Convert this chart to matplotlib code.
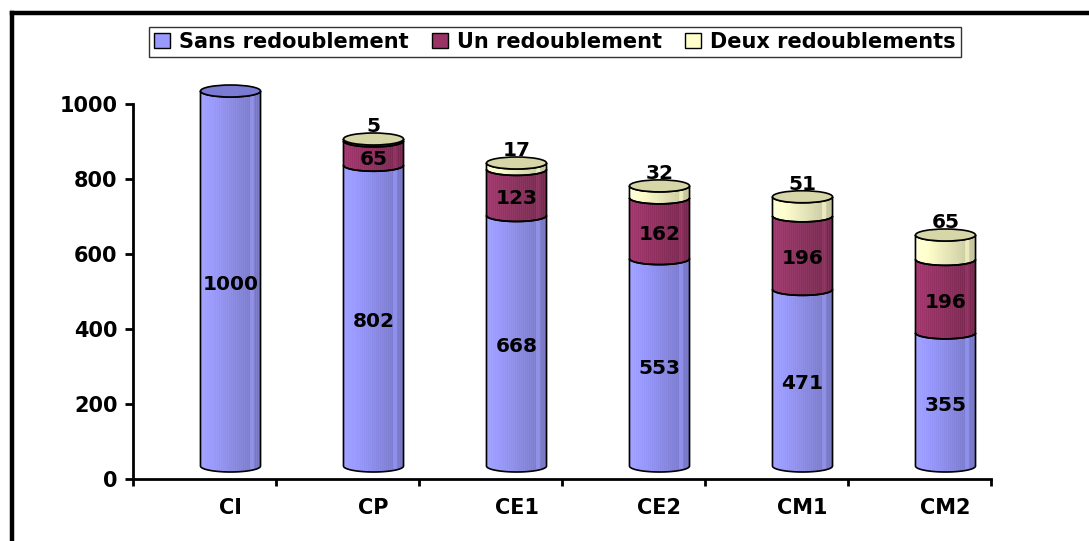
import matplotlib
matplotlib.use('Agg')
import matplotlib.pyplot as plt
from matplotlib.transforms import offset_copy, ScaledTranslation
from matplotlib.collections import PolyCollection
from matplotlib.patches import Polygon, Ellipse, Patch
from matplotlib.lines import Line2D
import matplotlib.colors as mcolors
import numpy as np

categories = ['CI', 'CP', 'CE1', 'CE2', 'CM1', 'CM2']
sans = [1000, 802, 668, 553, 471, 355]
un = [0, 65, 123, 162, 196, 196]
deux = [0, 5, 17, 32, 51, 65]
series_names = ['Sans redoublement', 'Un redoublement', 'Deux redoublements']
colors = ['#9999FF', '#993366', '#FFFFCC']
cap_colors = ['#7B7BD4', '#7A2A52', '#D6D6A8']

plt.rcParams['font.family'] = ['DejaVu Sans']
plt.rcParams['font.weight'] = 'bold'

W, H = 1089, 541
fig = plt.figure(figsize=(W / 100, H / 100), dpi=100)
ax = fig.add_axes([133 / W, 1 - 479 / H, (991 - 133) / W, (479 - 104) / H])
ax.set_xlim(-0.5, 5.5)
ax.set_ylim(0, 1000)

DX, DY = 26, 13  # 3D depth shift in pixels
trans = offset_copy(ax.transData, fig=fig, x=DX, y=DY, units='dots')
label_trans = offset_copy(ax.transData, fig=fig, x=DX, y=7, units='dots')
top_label_trans = offset_copy(ax.transData, fig=fig, x=DX, y=25, units='dots')

a = 0.21   # half width of cylinder (category units)
b = 16.0   # half height of ellipse (data units)


def shade(color, t):
    rgb = np.array(mcolors.to_rgb(color))
    f = 1.06 - 0.30 * t
    if 0.84 < t < 0.9:
        f += 0.12
    return tuple(np.clip(rgb * f, 0, 1))


def arc(cx, yc, n=40):
    t = np.linspace(np.pi, 2 * np.pi, n)
    return cx + a * np.cos(t), yc + b * np.sin(t)


def draw_segment(cx, y0, y1, color):
    n = 30
    xs = np.linspace(cx - a, cx + a, n + 1)
    s = lambda x: np.sqrt(np.clip(1 - ((x - cx) / a) ** 2, 0, 1))
    polys, cols = [], []
    for i in range(n):
        xa, xb = xs[i], xs[i + 1]
        polys.append([(xa, y0 - b * s(xa)), (xa, y1 - b * s(xa)),
                      (xb, y1 - b * s(xb)), (xb, y0 - b * s(xb))])
        cols.append(shade(color, (i + 0.5) / n))
    pc = PolyCollection(polys, facecolors=cols, edgecolors=cols, linewidths=0.4,
                        transform=trans, clip_on=False, zorder=3)
    ax.add_collection(pc)
    tx, ty = arc(cx, y1)
    bx, by = arc(cx, y0)
    px = np.concatenate([tx, bx[::-1]])
    py = np.concatenate([ty, by[::-1]])
    ax.add_patch(Polygon(np.column_stack([px, py]), closed=True, fill=False,
                         edgecolor='black', linewidth=1.2, transform=trans,
                         clip_on=False, zorder=4))


for i, cat in enumerate(categories):
    vals = [sans[i], un[i], deux[i]]
    base = 0
    top_idx = 0
    for k, v in enumerate(vals):
        if v > 0:
            draw_segment(i, base, base + v, colors[k])
            top_idx = k
            base += v
    ax.add_patch(Ellipse((i, base), 2 * a, 2 * b, facecolor=cap_colors[top_idx],
                         edgecolor='black', linewidth=1.2, transform=trans,
                         clip_on=False, zorder=5))
    # labels
    ax.text(i, sans[i] / 2, str(sans[i]), transform=label_trans, ha='center', va='center',
            fontsize=14.5, fontweight='bold', zorder=6)
    if un[i] > 0:
        ax.text(i, sans[i] + un[i] / 2, str(un[i]), transform=label_trans, ha='center',
                va='center', fontsize=14.5, fontweight='bold', zorder=6)
    if deux[i] > 0:
        ax.text(i, base, str(deux[i]), transform=top_label_trans, ha='center', va='center',
                fontsize=14.5, fontweight='bold', zorder=6)

# axes styling
for sp in ['top', 'right']:
    ax.spines[sp].set_visible(False)
for sp in ['left', 'bottom']:
    ax.spines[sp].set_linewidth(2)
ax.set_yticks([0, 200, 400, 600, 800, 1000])
ax.tick_params(axis='y', length=6, width=2, pad=5, labelsize=15)
ax.set_xticks(range(len(categories)))
ax.set_xticklabels(categories, fontsize=15, fontweight='bold')
ax.set_xticks(np.arange(-0.5, 6.0, 1.0), minor=True)
ax.tick_params(axis='x', which='major', length=0, pad=14)
ax.tick_params(axis='x', which='minor', length=5, width=2, direction='out')
for lbl in ax.get_yticklabels():
    lbl.set_fontweight('bold')
for lbl in ax.get_xticklabels():
    lbl.set_transform(lbl.get_transform() + ScaledTranslation(DX / 100, 0, fig.dpi_scale_trans))

# legend
handles = [Patch(facecolor=c, edgecolor='black', linewidth=1) for c in colors]
leg = fig.legend(handles, series_names, loc='center', bbox_to_anchor=(555 / W, 1 - 42 / H),
                 ncol=3, fontsize=15, frameon=True, fancybox=False, edgecolor='#333333',
                 framealpha=1, handlelength=0.75, handleheight=0.75, handletextpad=0.45,
                 columnspacing=1.1, borderpad=0.25, borderaxespad=0)
leg.get_frame().set_linewidth(1)
for t in leg.get_texts():
    t.set_fontweight('bold')

# outer frame (left and top)
fig.add_artist(Line2D([12 / W, 12 / W], [0, 1 - 13 / H], transform=fig.transFigure,
                      color='black', linewidth=3.2, solid_capstyle='projecting'))
fig.add_artist(Line2D([12 / W, 1], [1 - 13 / H, 1 - 13 / H], transform=fig.transFigure,
                      color='black', linewidth=3.2, solid_capstyle='projecting'))

fig.savefig('out.png', dpi=100)
